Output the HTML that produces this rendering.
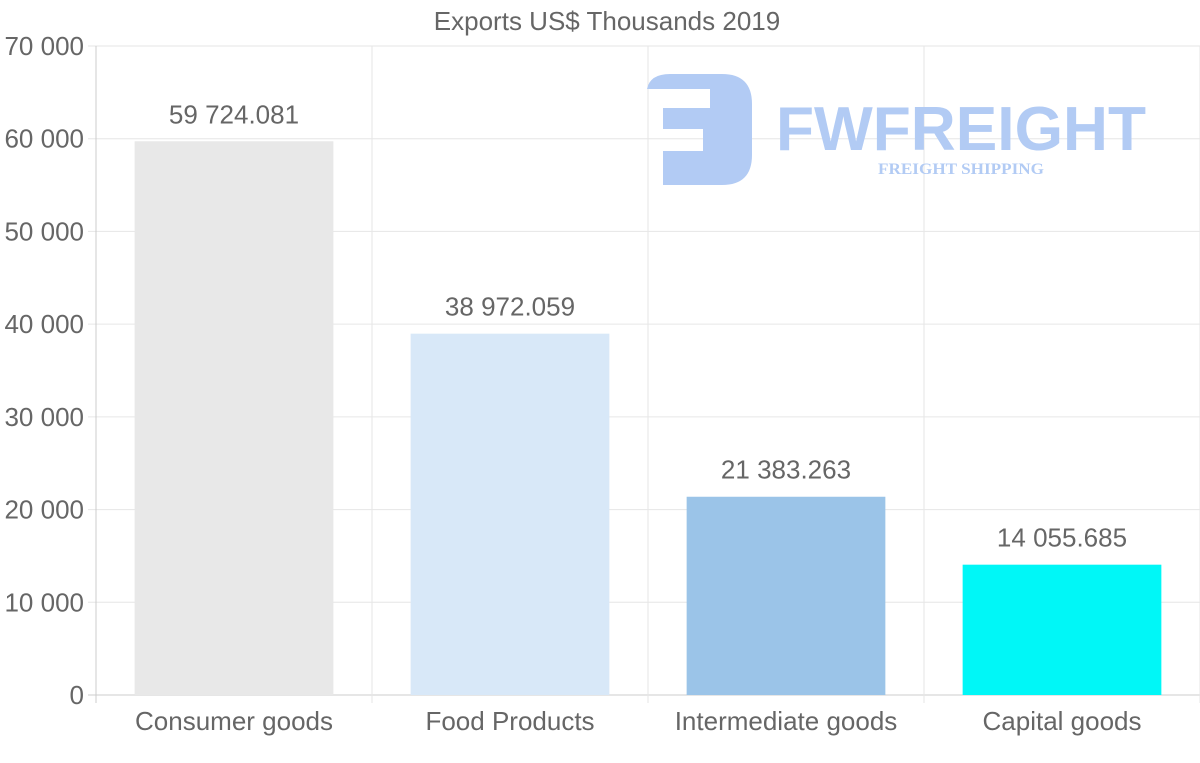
<!DOCTYPE html>
<html><head><meta charset="utf-8"><style>
html,body{margin:0;padding:0;background:#fff;}
svg{display:block;font-family:"Liberation Sans",Arial,sans-serif;}
</style></head><body>
<svg id="chart" width="1200" height="763" viewBox="0 0 1200 763">
<text x="607" y="30" text-anchor="middle" font-size="26" fill="#666">Exports US$ Thousands 2019</text>
<g id="grid"></g>
<g id="logo">
 <path d="M647 89 Q650 74 670 74 H722 Q752 74 752 104 V155 Q752 185 722 185 H663 V151 H703 V129 H663 V108 H710 V89 Z" fill="#b2cbf4"/>
 <text x="776" y="150" font-size="62" font-weight="bold" fill="#b2cbf4" textLength="370" lengthAdjust="spacingAndGlyphs">FWFREIGHT</text>
 <text x="961" y="174" text-anchor="middle" font-family="Liberation Serif,serif" font-weight="bold" font-size="16" fill="#b2cbf4" textLength="166" lengthAdjust="spacingAndGlyphs">FREIGHT SHIPPING</text>
</g>
<g id="bars"></g>
</svg>
<script>
const categories=["Consumer goods","Food Products","Intermediate goods","Capital goods"];
const values=[59724.081,38972.059,21383.263,14055.685];
const valueLabels=["59 724.081","38 972.059","21 383.263","14 055.685"];
const colors=["#e8e8e8","#d8e8f8","#9bc4e8","#00f7f7"];
const yTicks=[0,10000,20000,30000,40000,50000,60000,70000];
const yTickLabels=["0","10 000","20 000","30 000","40 000","50 000","60 000","70 000"];
const NS="http://www.w3.org/2000/svg";
const L=96,R=1200,T=46,B=695,yMax=70000;
const y=v=>B-(v/yMax)*(B-T);
const band=(R-L)/categories.length;
const x=i=>L+band*i;
function mk(tag,attrs,parent){const e=document.createElementNS(NS,tag);for(const k in attrs)e.setAttribute(k,attrs[k]);parent.appendChild(e);return e;}
const grid=document.getElementById('grid'),bars=document.getElementById('bars');
yTicks.forEach((t,i)=>{
  const ln=mk('line',{x1:88,x2:R,y1:y(t),y2:y(t),stroke:t===0?'#ccc':'#e6e6e6','stroke-width':1},grid);
  
  
  const tx=mk('text',{x:84,y:y(t)+9,'text-anchor':'end','font-size':26,fill:'#666'},grid);
  tx.textContent=yTickLabels[i];
  
  
});
for(let i=0;i<=categories.length;i++){
  const ln=mk('line',{x1:x(i),x2:x(i),y1:T,y2:703,stroke:i===0?'#ccc':'#e6e6e6','stroke-width':1},grid);
  
  
}
categories.forEach((c,i)=>{
  const bw=band*0.72,bx=x(i)+(band-bw)/2;
  const r=mk('rect',{x:bx,y:y(values[i]),width:bw,height:B-y(values[i]),fill:colors[i]},bars);
  
  
  const v=mk('text',{x:x(i)+band/2,y:y(values[i])-18,'text-anchor':'middle','font-size':26,fill:'#666'},bars);
  v.textContent=valueLabels[i];
  
  
  const lb=mk('text',{x:x(i)+band/2,y:730,'text-anchor':'middle','font-size':26,fill:'#666'},bars);
  lb.textContent=c;
  
  
});
</script>
</body></html>
